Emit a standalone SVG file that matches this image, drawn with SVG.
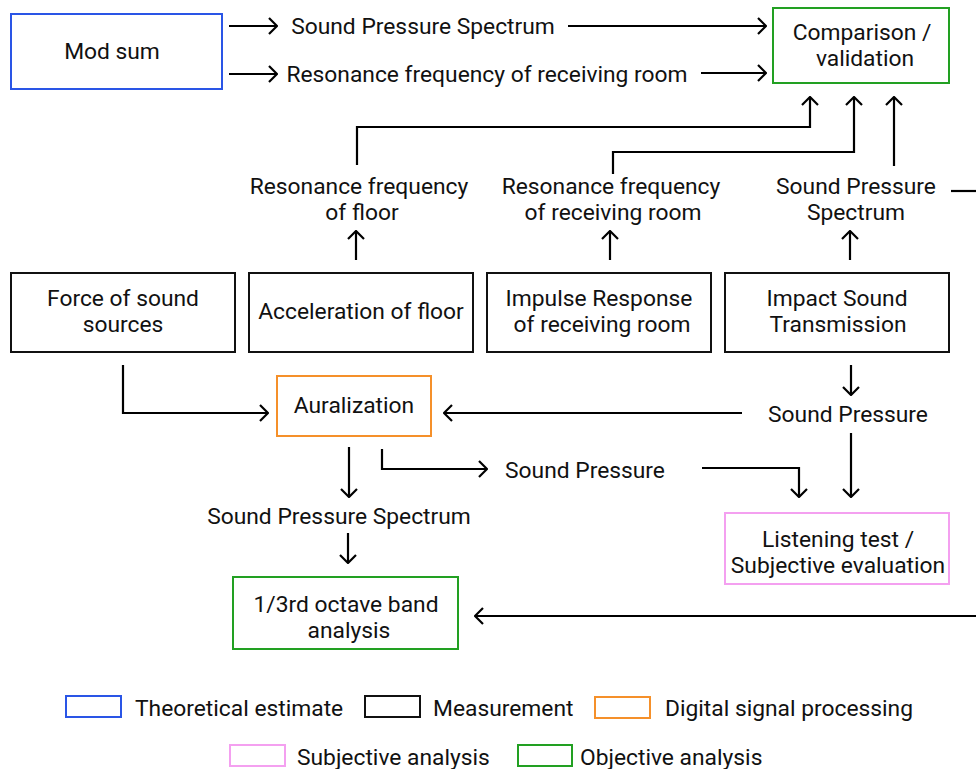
<svg xmlns="http://www.w3.org/2000/svg" width="976" height="769" viewBox="0 0 976 769">
<defs>
<marker id="ah" viewBox="0 0 10 18" refX="9" refY="9" markerWidth="10" markerHeight="18" markerUnits="userSpaceOnUse" orient="auto">
<path d="M1,1 L9,9 L1,17" fill="none" stroke="#000" stroke-width="2.2"/>
</marker>
<style>
text{font-family:Roboto,"Liberation Sans",sans-serif;font-size:22.8px;fill:#111;text-anchor:middle;dominant-baseline:central}
.box{fill:#fff;stroke-width:2}
.th{stroke:#2a55e6}.me{stroke:#111}.dsp{stroke:#f5902a}.sub{stroke:#f4a0f0}.obj{stroke:#22a022}
.c{fill:none;stroke:#000;stroke-width:2.2}
.a{marker-end:url(#ah)}
.l{text-anchor:start}
</style>
</defs>
<rect width="976" height="769" fill="#fff"/>
<g id="connectors">
<path class="c a" d="M229,26 H277"/>
<path class="c a" d="M568,26 H766"/>
<path class="c a" d="M229,74 H277"/>
<path class="c a" d="M701,73 H766"/>
<path class="c a" d="M357,165 V127 H810 V97"/>
<path class="c a" d="M613,174 V152 H854 V97"/>
<path class="c a" d="M894,166 V97"/>
<path class="c" d="M951,191 H976"/>
<path class="c a" d="M356,260 V231"/>
<path class="c a" d="M610,260 V231"/>
<path class="c a" d="M850,260 V231"/>
<path class="c a" d="M123,365 V413 H268"/>
<path class="c a" d="M742,413 H444"/>
<path class="c a" d="M851,365 V395"/>
<path class="c a" d="M851,433 V497"/>
<path class="c a" d="M349,447 V497"/>
<path class="c a" d="M348,533 V563"/>
<path class="c a" d="M382,449 V469 H487"/>
<path class="c a" d="M702,468 H799 V497"/>
<path class="c a" d="M976,616 H475"/>
</g>
<g id="modsum"><rect class="box th" x="11" y="14" width="211" height="75"/><text x="112" y="51">Mod sum</text></g>
<g id="lbl-sps1"><text x="423" y="26">Sound Pressure Spectrum</text></g>
<g id="lbl-rfr1"><text x="487" y="74">Resonance frequency of receiving room</text></g>
<g id="comparison"><rect class="box obj" x="773" y="8" width="176" height="75"/><text x="862" y="32">Comparison /</text><text x="865" y="58">validation</text></g>
<g id="lbl-rff"><text x="359" y="186">Resonance frequency</text><text x="362" y="212">of floor</text></g>
<g id="lbl-rfr2"><text x="611" y="186">Resonance frequency</text><text x="613" y="212">of receiving room</text></g>
<g id="lbl-sps2"><text x="856" y="186">Sound Pressure</text><text x="856" y="212">Spectrum</text></g>
<g id="force"><rect class="box me" x="11" y="273" width="224" height="79"/><text x="123" y="298">Force of sound</text><text x="123" y="324">sources</text></g>
<g id="accel"><rect class="box me" x="249" y="273" width="224" height="79"/><text x="361" y="311">Acceleration of floor</text></g>
<g id="impulse"><rect class="box me" x="487" y="273" width="224" height="79"/><text x="599" y="298">Impulse Response</text><text x="602" y="324">of receiving room</text></g>
<g id="impact"><rect class="box me" x="725" y="273" width="224" height="79"/><text x="837" y="298">Impact Sound</text><text x="838" y="324">Transmission</text></g>
<g id="auralization"><rect class="box dsp" x="277" y="376" width="154" height="60"/><text x="354" y="405">Auralization</text></g>
<g id="lbl-sp1"><text x="848" y="414">Sound Pressure</text></g>
<g id="lbl-sp2"><text x="585" y="470">Sound Pressure</text></g>
<g id="lbl-sps3"><text x="339" y="516">Sound Pressure Spectrum</text></g>
<g id="listening"><rect class="box sub" x="725" y="513" width="224" height="71"/><text x="838" y="539">Listening test /</text><text x="838" y="565">Subjective evaluation</text></g>
<g id="octave"><rect class="box obj" x="233" y="577" width="225" height="72"/><text x="346" y="604">1/3rd octave band</text><text x="349" y="630">analysis</text></g>
<g id="legend">
<rect class="box th" x="66" y="696" width="55" height="21"/><text class="l" x="135" y="708">Theoretical estimate</text>
<rect class="box me" x="365" y="696" width="55" height="21"/><text class="l" x="433" y="708">Measurement</text>
<rect class="box dsp" x="595" y="697" width="55" height="21"/><text class="l" x="665" y="708">Digital signal processing</text>
<rect class="box sub" x="230" y="745" width="55" height="21"/><text class="l" x="297" y="757">Subjective analysis</text>
<rect class="box obj" x="518" y="745" width="54" height="21"/><text class="l" x="580" y="757">Objective analysis</text>
</g>
</svg>
